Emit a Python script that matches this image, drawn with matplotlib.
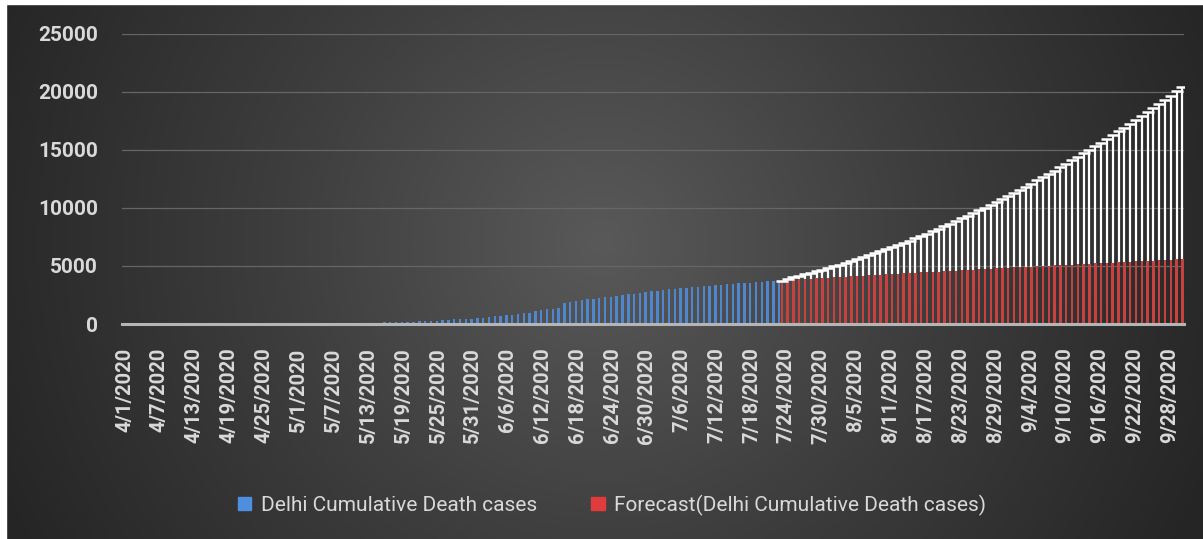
import numpy as np
import pandas as pd
import matplotlib
matplotlib.use("Agg")
import matplotlib.pyplot as plt
from matplotlib.patches import Patch, Rectangle
from matplotlib.colors import LinearSegmentedColormap

plt.rcParams["font.family"] = ["Roboto", "DejaVu Sans"]

# dados
dates = pd.date_range("2020-04-01", "2020-09-30")
labels = [f"{d.month}/{d.day}/{d.year}" for d in dates]

# óbitos acumulados em Delhi, 4/1 .. 7/23
deaths = [
    2, 4, 4, 6, 7, 7, 7, 9, 12, 13, 19, 24, 24, 30, 30, 38, 38, 42, 43, 45,
    47, 48, 50, 53, 54, 54, 54, 54, 54, 56,
    61, 64, 64, 64, 64, 65, 66, 73, 73, 86, 106, 115, 115, 123, 129, 148, 160, 168, 176, 194,
    208, 231, 261, 276, 288, 303, 316, 398, 416, 460, 473,
    523, 556, 606, 650, 708, 761, 812, 874, 905, 984, 1085, 1214, 1271, 1327, 1400, 1837, 1904,
    1969, 2035, 2112, 2175, 2233, 2301, 2365, 2429, 2492, 2558, 2623, 2680, 2742,
    2803, 2864, 2923, 2981, 3004, 3067, 3115, 3165, 3213, 3258, 3300, 3334, 3371, 3411, 3446,
    3487, 3545, 3571, 3597, 3628, 3663, 3690, 3719,
]

# previsão 7/23 .. 9/30
forecast = [
    3719, 3775, 3805, 3835, 3864, 3894, 3923, 3953, 3982, 4011, 4040, 4069, 4098, 4126, 4155,
    4184, 4212, 4240, 4268, 4297, 4325, 4353, 4381, 4408, 4436, 4464, 4491, 4519, 4546, 4573,
    4600, 4627, 4654, 4681, 4707, 4734, 4760, 4786, 4813, 4839, 4865, 4891, 4917, 4943, 4968,
    4994, 5019, 5045, 5070, 5095, 5120, 5145, 5170, 5195, 5219, 5244, 5268, 5293, 5317, 5341,
    5365, 5389, 5413, 5437, 5460, 5484, 5507, 5531, 5554, 5577,
]
# limite superior de confiança
upper = [
    3740, 3906, 4025, 4149, 4275, 4406, 4540, 4678, 4820, 4965, 5114, 5266, 5422, 5582, 5746,
    5913, 6084, 6259, 6437, 6619, 6804, 6994, 7187, 7383, 7584, 7788, 7995, 8206, 8421, 8640,
    8862, 9088, 9318, 9551, 9788, 10029, 10274, 10522, 10773, 11029, 11288, 11550, 11817, 12087,
    12361, 12638, 12919, 13204, 13492, 13784, 14080, 14379, 14683, 14989, 15300, 15614, 15932,
    16253, 16578, 16907, 17240, 17576, 17916, 18259, 18606, 18957, 19312, 19670, 20032, 20397,
]

W, H = 1203, 539
fig = plt.figure(figsize=(W / 100, H / 100), dpi=100)

# fundo com gradiente radial (estilo Excel)
bg = fig.add_axes([0, 0, 1, 1], zorder=-5)
gx, gy = np.meshgrid(np.linspace(0, 1, 400), np.linspace(0, 1, 200))
r = np.sqrt(((gx - 0.5) / 0.55) ** 2 + ((gy - 0.45) / 1.2) ** 2)
cmap = LinearSegmentedColormap.from_list("bg", ["#595959", "#3d3d3d", "#252525"])
bg.imshow(np.clip(r, 0, 1), cmap=cmap, vmin=0, vmax=1, extent=[0, 1, 0, 1],
          aspect="auto", origin="upper")
bg.set_xlim(0, 1); bg.set_ylim(0, 1)
bg.axis("off")
fig.patches.append(Rectangle((0, 0), 6 / W, 1, transform=fig.transFigure, color="white", zorder=10))
fig.patches.append(Rectangle((0, 1 - 4 / H), 1, 4 / H, transform=fig.transFigure, color="white", zorder=10))

ax = fig.add_axes([121.6 / W, 1 - 324 / H, (1184 - 121.6) / W, (324 - 33.6) / H])
ax.patch.set_alpha(0)

n_obs = len(deaths)
x_obs = np.arange(n_obs) - 0.22
x_fc = np.arange(n_obs - 1, n_obs - 1 + len(forecast)) + 0.22
ax.bar(x_obs, deaths, width=0.42, color="#4f86d0", zorder=3)
ax.bar(x_fc, forecast, width=0.42, color="#c9413f", zorder=3)
ax.vlines(x_fc, forecast, upper, color="white", lw=1.6, zorder=4)
ax.plot(x_fc, upper, ls="none", marker="_", ms=9, mew=1.8, color="white", zorder=4)

ax.set_xlim(-0.5, len(labels) - 0.5)
ax.set_ylim(0, 25000)
ax.set_yticks(range(0, 25001, 5000))
ax.set_yticklabels([str(v) for v in range(0, 25001, 5000)], fontsize=15, fontweight="bold",
                   color="#d9d9d9")
tick_idx = list(range(0, len(labels), 6))
ax.set_xticks(tick_idx)
ax.set_xticklabels([labels[i] for i in tick_idx], rotation=90, fontsize=14.5,
                   fontweight="bold", color="#d9d9d9")
ax.tick_params(axis="y", length=0, pad=17)
ax.tick_params(axis="x", length=0, pad=17)
for s in ax.spines.values():
    s.set_visible(False)
ax.yaxis.grid(True, color="#666666", lw=0.9, zorder=0)
ax.set_axisbelow(True)
ax.axhline(0, color="#b5b5b5", lw=2.2, zorder=5, clip_on=False)

handles = [Patch(color="#4f8fe0", label="Delhi Cumulative Death cases"),
           Patch(color="#e03c3c", label="Forecast(Delhi Cumulative Death cases)")]
fig.legend(handles=handles, loc="center", bbox_to_anchor=(612 / W, 1 - 505 / H), ncol=2,
           frameon=False, fontsize=15, labelcolor="#d9d9d9", handlelength=0.65,
           handleheight=0.65, handletextpad=0.45, columnspacing=2.6)

fig.savefig("out.png", dpi=100)
